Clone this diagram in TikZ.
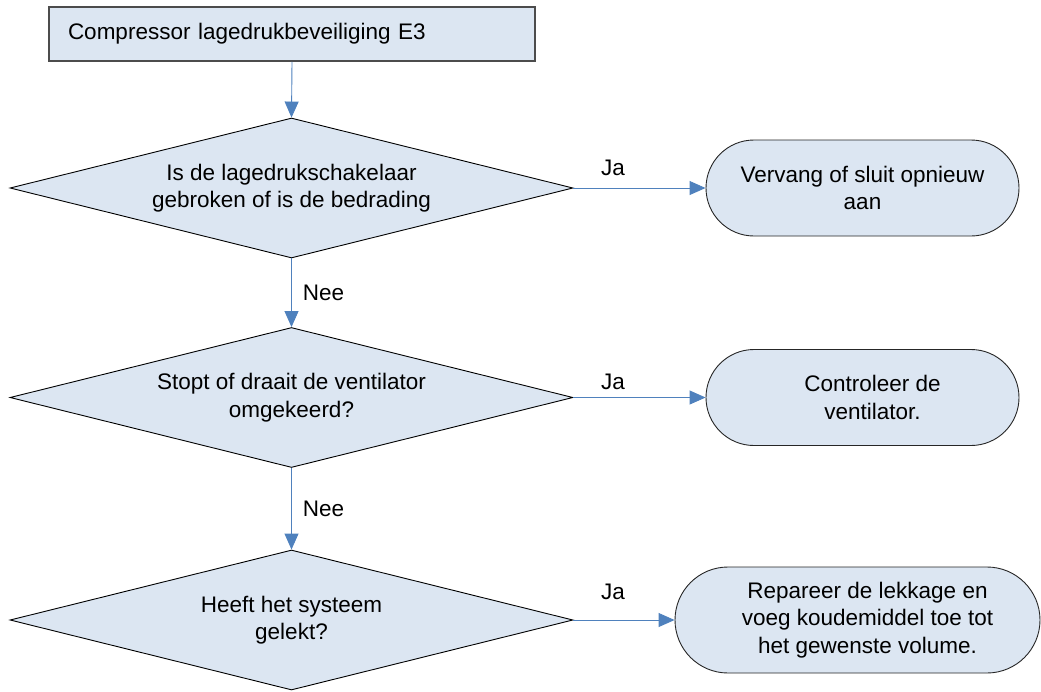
\documentclass[tikz,border=0pt]{standalone}
\usepackage{fontspec}
\setmainfont{Liberation Sans}
\usetikzlibrary{shapes.geometric,arrows.meta}

\definecolor{boxfill}{RGB}{220,230,242}
\definecolor{linkblue}{RGB}{79,129,189}

% push a line of text a little to the right inside its box
\newcommand{\nudge}{\hspace*{20pt}}

\tikzset{
  every node/.style={font=\fontsize{22.5}{27.5}\selectfont},
  startbox/.style={rectangle, draw=black!70, line width=1.5pt, fill=boxfill,
    minimum width=486pt, minimum height=54pt, text width=448pt, inner xsep=19pt,
    align=left},
  question/.style={diamond, draw=black, line width=0.9pt, fill=boxfill,
    minimum width=563pt, minimum height=140pt, inner sep=0pt, aspect=4, align=center},
  action/.style={rectangle, draw=black!85, line width=0.9pt, fill=boxfill,
    inner sep=0pt, align=center},
  link/.style={draw=linkblue, line width=0.9pt,
    -{Triangle[length=16pt,width=14pt,fill=linkblue]}},
  answer/.style={inner sep=2pt}
}

\begin{document}
\begin{tikzpicture}[x=1pt, y=-1pt]
\useasboundingbox (0,0) rectangle (1041,691);
% Start
\node[startbox] (start) at (292,34) {Compressor lagedrukbeveiliging E3};
% Questions
\node[question] (q1) at (291.5,188) {Is de lagedrukschakelaar\\gebroken of is de bedrading};
\node[question] (q2) at (291.5,397.5) {Stopt of draait de ventilator\\omgekeerd?};
\node[question] (q3) at (291.5,620) {Heeft het systeem\\gelekt?};
% Actions
\node[action, minimum width=313pt, minimum height=96pt, rounded corners=48pt]
  (fix) at (862.5,188) {Vervang of sluit opnieuw\\aan};
\node[action, minimum width=313pt, minimum height=96pt, rounded corners=48pt]
  (fan) at (862.5,397.5) {\nudge Controleer de\\\nudge ventilator.};
\node[action, minimum width=365pt, minimum height=106pt, rounded corners=53pt]
  (leak) at (857.5,620) {\nudge Repareer de lekkage en\\\nudge voeg koudemiddel toe tot\\\nudge het gewenste volume.};
% Connectors
\draw[link] (start.south) -- (q1.north);
\draw[link] (q1.south) -- node[answer, right=9pt] {Nee} (q2.north);
\draw[link] (q2.south) -- node[answer, right=9pt] {Nee} (q3.north);
\draw[link] (q1.east) -- node[answer, above=10pt, pos=0.3] {Ja} (fix.west);
\draw[link] (q2.east) -- node[answer, above=5pt, pos=0.3] {Ja} (fan.west);
\draw[link] (q3.east) -- node[answer, above=18pt, pos=0.39] {Ja} (leak.west);
\end{tikzpicture}
\end{document}
